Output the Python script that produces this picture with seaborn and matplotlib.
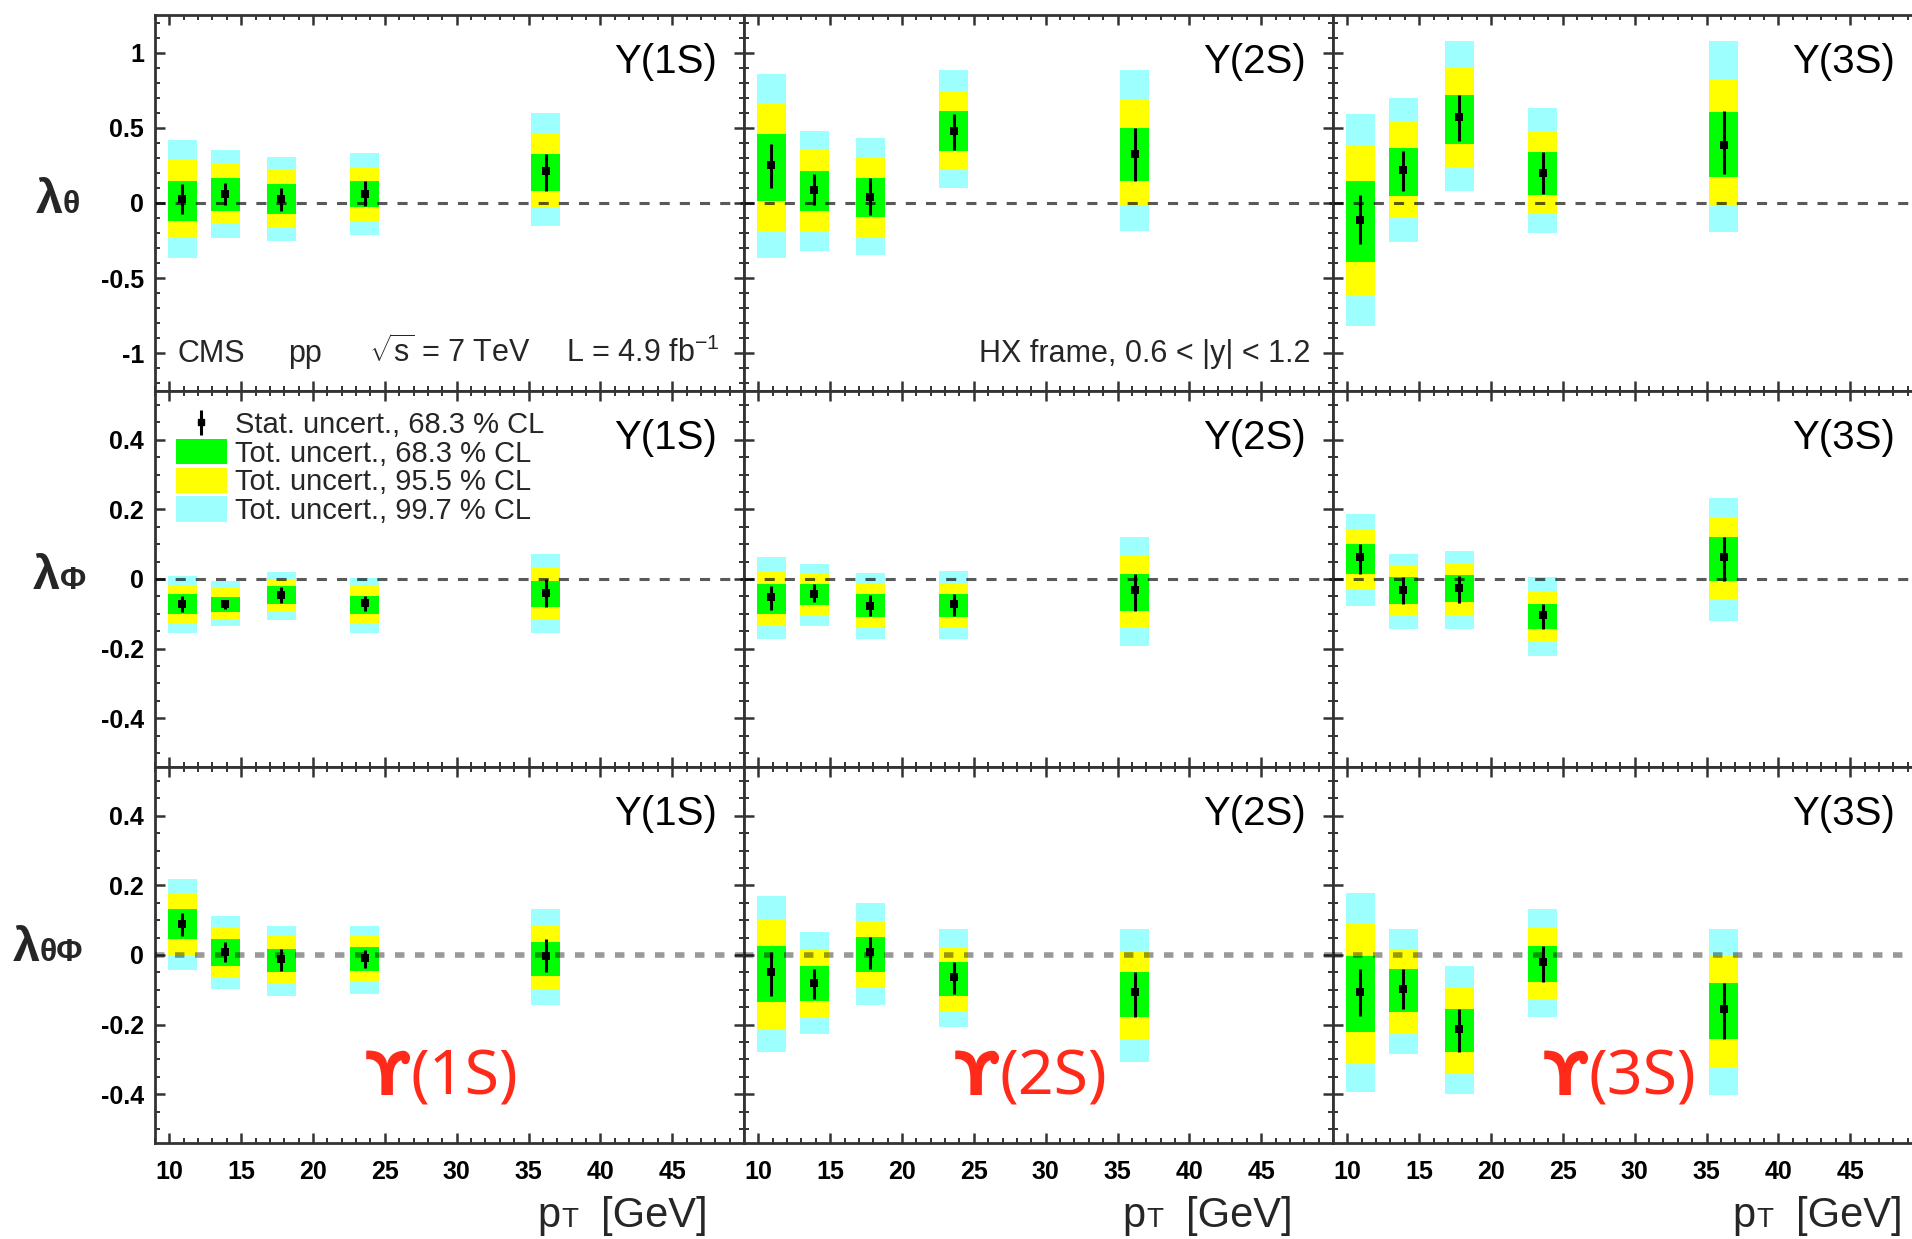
import numpy as np
import pandas as pd
import matplotlib
matplotlib.use("Agg")
import matplotlib.pyplot as plt
import seaborn as sns
from matplotlib.patches import Patch
from matplotlib.lines import Line2D
from matplotlib.ticker import FixedLocator, MultipleLocator

# ---------------- data ----------------
pt_bins = [10.9, 13.9, 17.8, 23.6, 36.2]
states = ["1S", "2S", "3S"]
params = ["lth", "lph", "ltp"]
cols = ["val", "stat_lo", "stat_hi", "t68_lo", "t68_hi", "t95_lo", "t95_hi", "t997_lo", "t997_hi"]

# (central, stat lo, stat hi, 68.3% lo, hi, 95.5% lo, hi, 99.7% lo, hi)
lth_1S = [(0.027, -0.074, 0.127, -0.123, 0.145, -0.230, 0.283, -0.368, 0.417),
          (0.062, -0.011, 0.134, -0.051, 0.167, -0.141, 0.261, -0.234, 0.353),
          (0.027, -0.056, 0.100, -0.074, 0.127, -0.158, 0.217, -0.250, 0.306),
          (0.060, -0.022, 0.145, -0.029, 0.145, -0.123, 0.234, -0.212, 0.333),
          (0.212, 0.083, 0.328, 0.078, 0.328, -0.033, 0.462, -0.150, 0.596)]
lth_2S = [(0.252, 0.100, 0.390, 0.016, 0.462, -0.190, 0.658, -0.364, 0.855),
          (0.087, -0.016, 0.190, -0.056, 0.212, -0.190, 0.350, -0.319, 0.480),
          (0.038, -0.078, 0.167, -0.096, 0.167, -0.225, 0.301, -0.346, 0.435),
          (0.480, 0.350, 0.590, 0.346, 0.614, 0.223, 0.748, 0.100, 0.882),
          (0.324, 0.145, 0.498, 0.145, 0.498, -0.016, 0.685, -0.185, 0.882)]
lth_3S = [(-0.112, -0.275, 0.056, -0.390, 0.145, -0.614, 0.380, -0.815, 0.592),
          (0.217, 0.083, 0.346, 0.045, 0.368, -0.100, 0.542, -0.257, 0.699),
          (0.569, 0.413, 0.720, 0.390, 0.721, 0.234, 0.900, 0.078, 1.078),
          (0.200, 0.060, 0.342, 0.056, 0.342, -0.074, 0.480, -0.200, 0.632),
          (0.386, 0.190, 0.614, 0.172, 0.603, -0.011, 0.826, -0.190, 1.078)]
lph_1S = [(-0.072, -0.096, -0.048, -0.100, -0.043, -0.127, -0.017, -0.155, 0.010),
          (-0.072, -0.085, -0.060, -0.094, -0.053, -0.115, -0.027, -0.136, -0.005),
          (-0.046, -0.069, -0.024, -0.073, -0.021, -0.096, -0.002, -0.117, 0.021),
          (-0.070, -0.092, -0.048, -0.101, -0.050, -0.129, -0.021, -0.155, 0.004),
          (-0.040, -0.079, 0.000, -0.081, -0.005, -0.117, 0.035, -0.155, 0.072)]
lph_2S = [(-0.053, -0.090, -0.021, -0.100, -0.014, -0.134, 0.024, -0.173, 0.062),
          (-0.042, -0.066, -0.014, -0.075, -0.014, -0.104, 0.014, -0.136, 0.043),
          (-0.077, -0.107, -0.046, -0.110, -0.043, -0.139, -0.014, -0.173, 0.017),
          (-0.072, -0.107, -0.043, -0.110, -0.043, -0.139, -0.014, -0.173, 0.024),
          (-0.031, -0.091, 0.014, -0.091, 0.014, -0.139, 0.065, -0.192, 0.120)]
lph_3S = [(0.062, 0.014, 0.100, 0.014, 0.100, -0.031, 0.144, -0.077, 0.187),
          (-0.032, -0.072, 0.005, -0.072, 0.005, -0.105, 0.038, -0.144, 0.072),
          (-0.027, -0.069, 0.010, -0.067, 0.012, -0.105, 0.043, -0.144, 0.081),
          (-0.104, -0.144, -0.072, -0.144, -0.072, -0.182, -0.034, -0.220, 0.005),
          (0.062, -0.005, 0.120, -0.005, 0.120, -0.060, 0.175, -0.120, 0.232)]
ltp_1S = [(0.090, 0.055, 0.122, 0.046, 0.132, -0.002, 0.175, -0.042, 0.218),
          (0.008, -0.020, 0.037, -0.031, 0.046, -0.064, 0.079, -0.098, 0.113),
          (-0.011, -0.045, 0.017, -0.050, 0.017, -0.083, 0.056, -0.119, 0.084),
          (-0.010, -0.038, 0.015, -0.045, 0.022, -0.077, 0.056, -0.112, 0.084),
          (-0.002, -0.050, 0.046, -0.059, 0.037, -0.098, 0.084, -0.145, 0.132)]
ltp_2S = [(-0.050, -0.117, 0.008, -0.134, 0.025, -0.213, 0.104, -0.280, 0.169),
          (-0.079, -0.126, -0.040, -0.131, -0.033, -0.179, 0.017, -0.227, 0.065),
          (0.008, -0.040, 0.051, -0.048, 0.051, -0.093, 0.099, -0.144, 0.150),
          (-0.064, -0.112, -0.021, -0.117, -0.021, -0.160, 0.022, -0.208, 0.075),
          (-0.107, -0.179, -0.048, -0.179, -0.048, -0.240, 0.012, -0.307, 0.075)]
ltp_3S = [(-0.107, -0.174, -0.040, -0.220, -0.002, -0.310, 0.089, -0.393, 0.178),
          (-0.098, -0.155, -0.040, -0.165, -0.040, -0.224, 0.017, -0.285, 0.075),
          (-0.213, -0.278, -0.155, -0.278, -0.155, -0.338, -0.093, -0.400, -0.031),
          (-0.021, -0.077, 0.027, -0.077, 0.027, -0.127, 0.080, -0.179, 0.131),
          (-0.156, -0.242, -0.079, -0.242, -0.079, -0.323, -0.002, -0.403, 0.075)]

panel_data = {
    ("lth", "1S"): lth_1S, ("lth", "2S"): lth_2S, ("lth", "3S"): lth_3S,
    ("lph", "1S"): lph_1S, ("lph", "2S"): lph_2S, ("lph", "3S"): lph_3S,
    ("ltp", "1S"): ltp_1S, ("ltp", "2S"): ltp_2S, ("ltp", "3S"): ltp_3S,
}

x_ticks = [10, 15, 20, 25, 30, 35, 40, 45]
y_ticks_th = [-1, -0.5, 0, 0.5, 1]
y_ticklabels_th = ["-1", "-0.5", "0", "0.5", "1"]
y_ticks_ph = [-0.4, -0.2, 0, 0.2, 0.4]
y_ticklabels_ph = ["-0.4", "-0.2", "0", "0.2", "0.4"]

legend_labels = ["Stat. uncert., 68.3 % CL", "Tot. uncert., 68.3 % CL",
                 "Tot. uncert., 95.5 % CL", "Tot. uncert., 99.7 % CL"]
panel_titles = ["\u03a5(1S)", "\u03a5(2S)", "\u03a5(3S)"]
red_symbol = "\u03d2"
red_states = ["(1S)", "(2S)", "(3S)"]

rows = []
for (p, s), lst in panel_data.items():
    for pt, vals in zip(pt_bins, lst):
        rows.append(dict(param=p, state=s, pt=pt, **dict(zip(cols, vals))))
df = pd.DataFrame(rows)

# ---------------- style ----------------
sns.set_theme(style="ticks")
plt.rcParams["font.family"] = ["Liberation Sans", "DejaVu Sans"]
plt.rcParams["mathtext.fontset"] = "custom"
plt.rcParams["mathtext.rm"] = "Liberation Sans"
plt.rcParams["mathtext.it"] = "Liberation Sans:italic"
plt.rcParams["mathtext.bf"] = "Liberation Sans:bold"

C_GREEN = "#00ff00"
C_YELLOW = "#ffff00"
C_CYAN = "#9effff"
FRAME = "#333333"
RED = "#ff2a1a"

W, H = 1912, 1239
fig = plt.figure(figsize=(W / 100, H / 100), dpi=100)
col_left = [155, 744, 1333]
col_w = 589
row_top = [15, 391, 767]
row_h = 376

axes = [[None] * 3 for _ in range(3)]
for r, p in enumerate(params):
    for c, s in enumerate(states):
        ax = fig.add_axes([col_left[c] / W, 1 - (row_top[r] + row_h) / H, col_w / W, row_h / H])
        axes[r][c] = ax
        d = df[(df.param == p) & (df.state == s)]
        for lo, hi, colr, z in [("t997_lo", "t997_hi", C_CYAN, 1),
                                ("t95_lo", "t95_hi", C_YELLOW, 2),
                                ("t68_lo", "t68_hi", C_GREEN, 3)]:
            ax.bar(d.pt, d[hi] - d[lo], bottom=d[lo], width=2.0, color=colr,
                   linewidth=0, zorder=z)
        if r < 2:
            ax.axhline(0, color="black", alpha=0.65, lw=2.2, dashes=(3.3, 3.3), zorder=4)
        else:
            ax.axhline(0, color="black", alpha=0.4, lw=4.0, dashes=(1.7, 1.9), zorder=4)
        ax.vlines(d.pt, d.stat_lo, d.stat_hi, color="black", lw=2.2, zorder=5)
        sns.scatterplot(x=d.pt, y=d.val, marker="s", color="black", s=28,
                        linewidth=0, ax=ax, zorder=6, legend=False)
        ax.set_xlabel("")
        ax.set_ylabel("")
        ax.set_xlim(9, 50)
        ax.xaxis.set_major_locator(FixedLocator(x_ticks))
        ax.xaxis.set_minor_locator(MultipleLocator(1))
        if r == 0:
            ax.set_ylim(-1.25, 1.25)
            ax.yaxis.set_major_locator(FixedLocator(y_ticks_th))
            ax.yaxis.set_minor_locator(MultipleLocator(0.1))
            ylabels = y_ticklabels_th
        else:
            ax.set_ylim(-0.54, 0.54)
            ax.yaxis.set_major_locator(FixedLocator(y_ticks_ph))
            ax.yaxis.set_minor_locator(MultipleLocator(0.05))
            ylabels = y_ticklabels_ph
        ax.tick_params(which="both", direction="in", top=True, right=True,
                       bottom=True, left=True, color=FRAME, labelcolor="black")
        ax.tick_params(which="major", length=7, width=1.8)
        ax.tick_params(which="minor", length=3.5, width=1.4)
        if c == 0:
            ax.set_yticklabels(ylabels, fontsize=18, fontweight="bold")
            ax.tick_params(axis="y", pad=8)
        else:
            ax.tick_params(labelleft=False)
        if r == 2:
            ax.set_xticklabels([str(v) for v in x_ticks], fontsize=18, fontweight="bold")
            ax.tick_params(axis="x", pad=12)
        else:
            ax.tick_params(labelbottom=False)
        for sp in ax.spines.values():
            sp.set_color(FRAME)
            sp.set_linewidth(2)
            sp.set_visible(True)
        ax.set_facecolor("white")
        ax.text(0.954, 0.845, panel_titles[c], transform=ax.transAxes, ha="right",
                va="baseline", fontsize=29, color="black", zorder=7)
        if r == 2:
            ax.text(26.8, -0.402, red_symbol, ha="right", va="baseline",
                    fontsize=44, fontweight="bold", color=RED,
                    family=["DejaVu Sans"], zorder=7)
            ax.text(26.8, -0.402, red_states[c], ha="left", va="baseline",
                    fontsize=45, color=RED, family=["Noto Sans", "DejaVu Sans"], zorder=7)

# texts in the top-left panel
a0 = axes[0][0]
ybase = -1.057
for xfrac, txt in [(0.0374, "CMS"), (0.226, "pp"), (0.363, r"$\sqrt{\mathrm{s}}$ = 7 TeV"),
                   (0.698, r"L = 4.9 fb$^{\mathrm{-1}}$")]:
    a0.text(xfrac, ybase, txt, transform=a0.get_yaxis_transform(), ha="left",
            va="baseline", fontsize=22, zorder=7)
a1 = axes[0][1]
a1.text(0.961, ybase, "HX frame, 0.6 < |y| < 1.2", transform=a1.get_yaxis_transform(),
        ha="right", va="baseline", fontsize=22, zorder=7)

# legend
stat_handle = (Line2D([], [], marker="|", ms=18, mew=2.2, color="black", ls="none"),
               Line2D([], [], marker="s", ms=5, color="black", ls="none"))
handles = [stat_handle,
           Patch(facecolor=C_GREEN, edgecolor="none"),
           Patch(facecolor=C_YELLOW, edgecolor="none"),
           Patch(facecolor=C_CYAN, edgecolor="none")]
axes[1][0].legend(handles, legend_labels, loc="upper left", bbox_to_anchor=(0.035, 0.948),
                  frameon=False, fontsize=21, handlelength=1.75, handleheight=0.95,
                  handletextpad=0.28, labelspacing=0.0, borderpad=0, borderaxespad=0)

# y-axis labels (lambda)
def ylab(xl, base, sub):
    fig.text(xl / W, 1 - base / H, "\u03bb", ha="right", va="baseline",
             fontsize=35, fontweight="bold")
    fig.text(xl / W, 1 - base / H, sub, ha="left", va="baseline",
             fontsize=23, fontweight="bold")

ylab(63, 213, "\u03b8")
ylab(60, 589, "\u03a6")
ylab(40, 961, "\u03b8\u03a6")

# x-axis labels
for xl in [537, 1122, 1732]:
    fig.text(xl / W, 1 - 1227 / H, "p", ha="left", va="baseline", fontsize=30)
    fig.text((xl + 24) / W, 1 - 1227 / H, "T", ha="left", va="baseline", fontsize=20)
    fig.text((xl + 64) / W, 1 - 1227 / H, "[GeV]", ha="left", va="baseline", fontsize=30)

fig.savefig("out.png", dpi=100, facecolor="white")
